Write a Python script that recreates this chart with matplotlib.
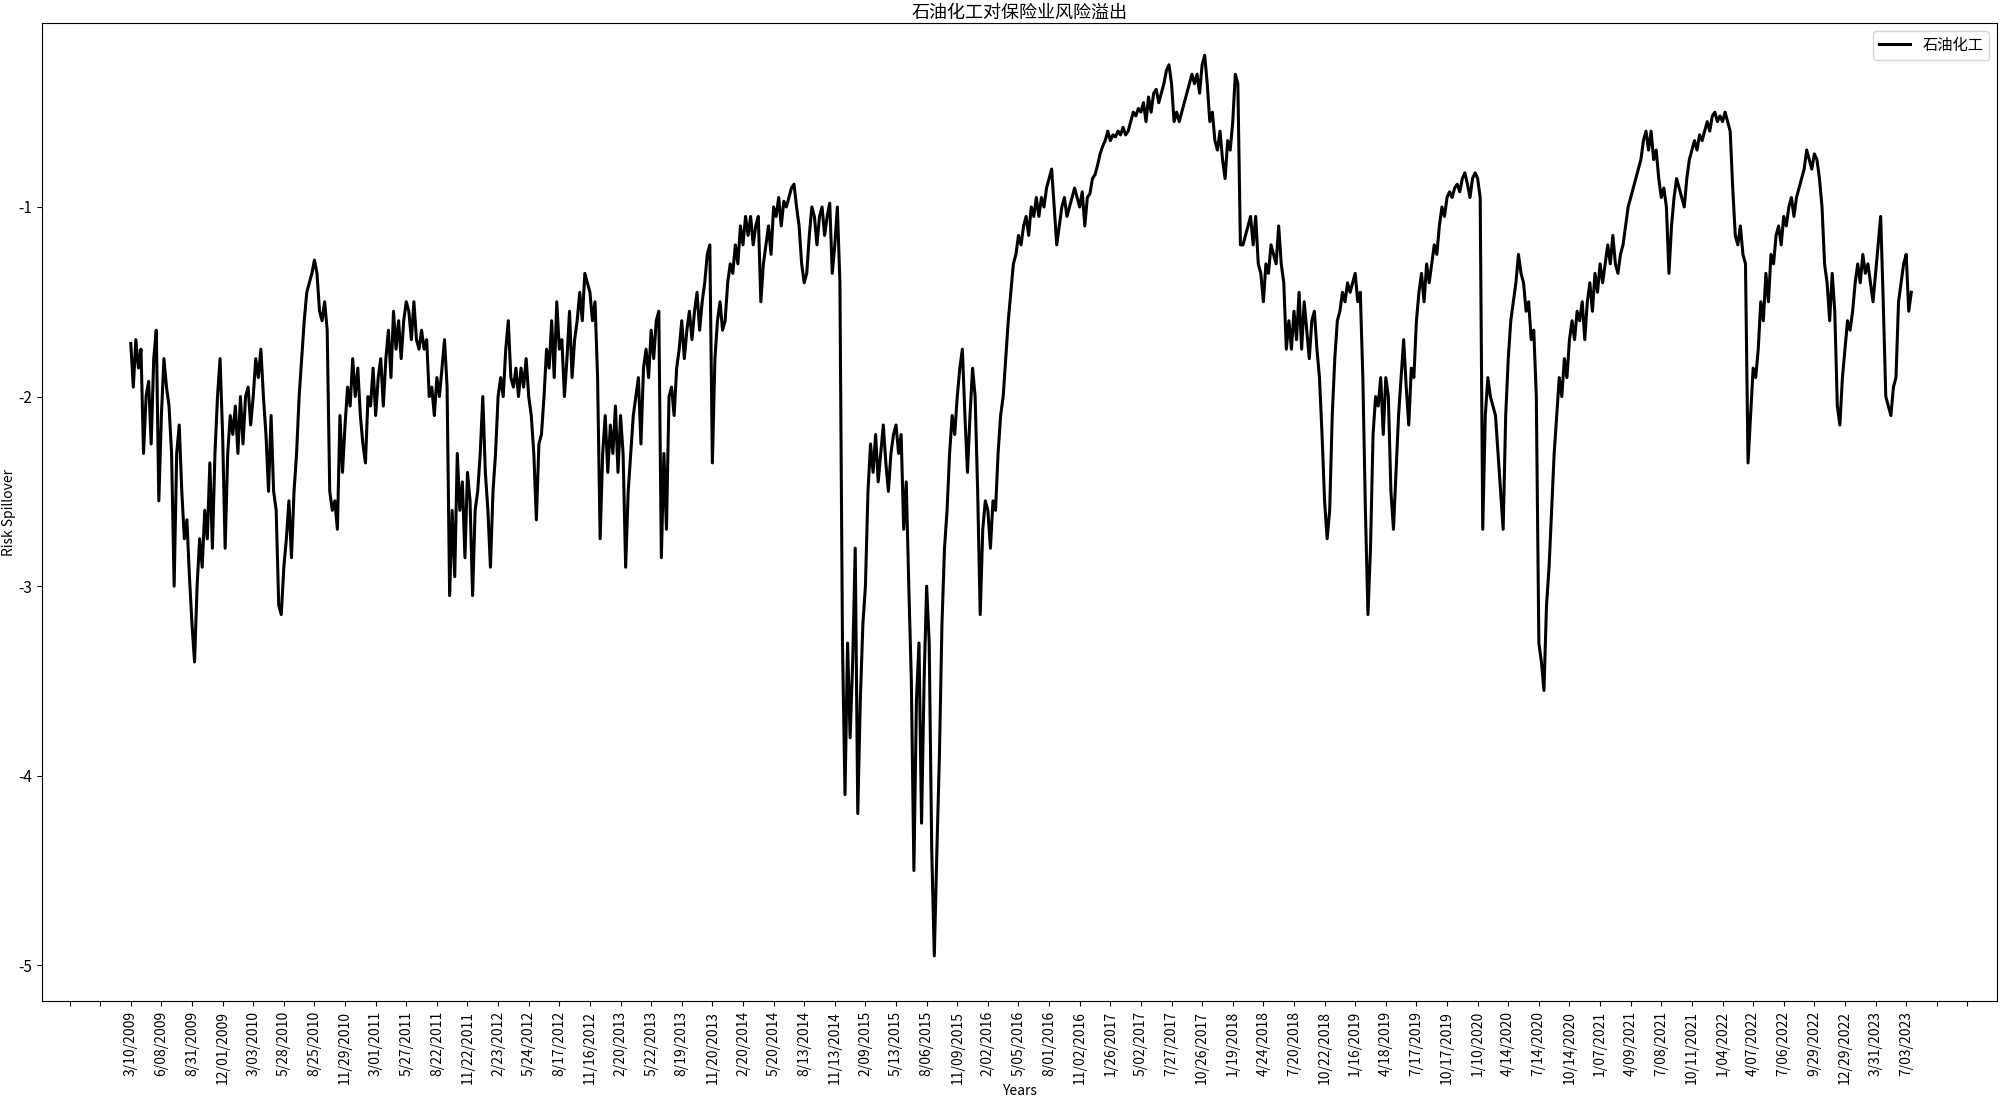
import numpy as np
import matplotlib
matplotlib.use('Agg')
import matplotlib.pyplot as plt

plt.rcParams['font.family'] = ['Noto Sans CJK SC', 'DejaVu Sans']
plt.rcParams['axes.unicode_minus'] = False

# weekly readings (every 5 trading days) of the spillover series
seg_2009 = [-1.72, -1.95, -1.7, -1.85, -1.75, -2.3, -2.0, -1.92, -2.25, -1.8,
            -1.65, -2.55, -2.1, -1.8, -1.95, -2.05, -2.3, -3.0, -2.3, -2.15,
            -2.5, -2.75, -2.65, -2.95, -3.2, -3.4, -3.0, -2.75]
seg_2010 = [-2.9, -2.6, -2.75, -2.35, -2.8, -2.3, -2.0, -1.8, -2.2, -2.8,
            -2.3, -2.1, -2.2, -2.05, -2.3, -2.0, -2.25, -2.0, -1.95, -2.15,
            -2.0, -1.8, -1.9, -1.75, -2.0, -2.2, -2.5, -2.1, -2.5, -2.6,
            -3.1, -3.15, -2.9, -2.75, -2.55, -2.85, -2.5, -2.3, -2.0, -1.8,
            -1.6, -1.45, -1.4, -1.35, -1.28, -1.35, -1.55, -1.6, -1.5, -1.65]
seg_2011 = [-2.5, -2.6, -2.55, -2.7, -2.1, -2.4, -2.15, -1.95, -2.05, -1.8,
            -2.0, -1.85, -2.1, -2.25, -2.35, -2.0, -2.05, -1.85, -2.1, -1.9,
            -1.8, -2.05, -1.8, -1.65, -1.9, -1.55, -1.75, -1.6, -1.8, -1.6,
            -1.5, -1.55, -1.7, -1.5, -1.7, -1.75, -1.65, -1.75, -1.7, -2.0,
            -1.95, -2.1, -1.9, -2.0, -1.85, -1.7]
seg_2012 = [-1.95, -3.05, -2.6, -2.95, -2.3, -2.6, -2.45, -2.85, -2.4, -2.55,
            -3.05, -2.6, -2.5, -2.3, -2.0, -2.4, -2.6, -2.9, -2.5, -2.3,
            -2.0, -1.9, -2.0, -1.75, -1.6, -1.9, -1.95, -1.85, -2.0, -1.85,
            -1.95, -1.8, -2.0, -2.1, -2.3, -2.65, -2.25, -2.2, -2.0, -1.75,
            -1.85, -1.6, -1.9, -1.5, -1.75, -1.7, -2.0, -1.8, -1.55, -1.9,
            -1.7, -1.6, -1.45, -1.6, -1.35, -1.4, -1.45, -1.6, -1.5, -1.9]
seg_2013 = [-2.75, -2.3, -2.1, -2.4, -2.15, -2.3, -2.05, -2.4, -2.1, -2.3,
            -2.9, -2.5, -2.3, -2.1, -2.0, -1.9, -2.25, -1.85, -1.75, -1.9,
            -1.65, -1.8, -1.6, -1.55, -2.85, -2.3, -2.7, -2.0, -1.95, -2.1,
            -1.85, -1.75, -1.6, -1.8, -1.65, -1.55, -1.7, -1.55, -1.45, -1.65,
            -1.5, -1.4, -1.25, -1.2, -2.35, -1.8, -1.6, -1.5, -1.65, -1.6,
            -1.4, -1.3, -1.35, -1.2, -1.3, -1.1, -1.2, -1.05, -1.15, -1.05,
            -1.2, -1.1, -1.05, -1.5, -1.3, -1.2, -1.1, -1.25, -1.0, -1.05,
            -0.95, -1.1, -0.97, -1.0, -0.95, -0.9, -0.88, -1.0, -1.1, -1.3,
            -1.4, -1.35, -1.15, -1.0, -1.05, -1.2, -1.05, -1.0, -1.15, -1.05,
            -0.98, -1.35, -1.2, -1.0]
seg_2015 = [-1.4, -3.3, -4.1, -3.3, -3.8, -3.4, -2.8, -4.2, -3.6, -3.2,
            -3.0, -2.5, -2.25, -2.4, -2.2, -2.45, -2.3, -2.15, -2.35, -2.5,
            -2.3, -2.2, -2.15, -2.3, -2.2, -2.7, -2.45, -3.0, -3.5, -4.5,
            -3.6, -3.3, -4.25, -3.5, -3.0, -3.3, -4.4, -4.95, -4.4, -3.9,
            -3.2, -2.8, -2.6, -2.3, -2.1, -2.2, -2.0, -1.85, -1.75, -2.1,
            -2.4, -2.1, -1.85, -2.0, -2.5, -3.15]
seg_2016 = [-2.7, -2.55, -2.6, -2.8, -2.55, -2.6, -2.3, -2.1, -2.0, -1.8,
            -1.6, -1.45, -1.3, -1.25, -1.15, -1.2, -1.1, -1.05, -1.15, -1.0,
            -1.05, -0.95, -1.05, -0.95, -1.0, -0.9, -0.85, -0.8, -1.0, -1.2,
            -1.1, -1.0, -0.95, -1.05, -1.0, -0.95, -0.9, -0.95, -1.0, -0.92,
            -1.1, -0.95, -0.93, -0.85, -0.83, -0.78, -0.72, -0.68, -0.65, -0.6,
            -0.65, -0.62, -0.63, -0.6, -0.62, -0.58, -0.62, -0.6, -0.55, -0.5,
            -0.52, -0.48, -0.5, -0.45, -0.55, -0.42, -0.5, -0.4, -0.38, -0.45,
            -0.4, -0.35, -0.28, -0.25, -0.35, -0.55, -0.5, -0.55, -0.5, -0.45,
            -0.4, -0.35, -0.3, -0.35, -0.3, -0.4, -0.25, -0.2, -0.35, -0.55,
            -0.5, -0.65, -0.7, -0.6, -0.75, -0.85, -0.65, -0.7, -0.55, -0.3,
            -0.35]
seg_2018 = [-1.2, -1.2, -1.15, -1.1, -1.05, -1.2, -1.05, -1.3, -1.35, -1.5,
            -1.3, -1.35, -1.2, -1.25, -1.3, -1.1, -1.3, -1.4, -1.75, -1.6,
            -1.75, -1.55, -1.7, -1.45, -1.75, -1.5, -1.65, -1.8, -1.6, -1.55,
            -1.75, -1.9, -2.2, -2.55, -2.75, -2.6, -2.1, -1.8, -1.6, -1.55,
            -1.45, -1.5, -1.4, -1.45, -1.4, -1.35, -1.5, -1.45, -1.9, -2.6,
            -3.15, -2.8, -2.2, -2.0, -2.05, -1.9, -2.2, -1.9, -2.0, -2.5,
            -2.7, -2.4, -2.1, -1.9, -1.7, -1.95, -2.15, -1.85, -1.9, -1.6,
            -1.45, -1.35, -1.5, -1.3, -1.4, -1.3, -1.2, -1.25, -1.1, -1.0,
            -1.05, -0.95, -0.92, -0.95, -0.9, -0.88, -0.92, -0.85, -0.82, -0.88,
            -0.95, -0.85, -0.82, -0.85, -0.95]
seg_2020 = [-2.7, -2.1, -1.9, -2.0, -2.05, -2.1, -2.3, -2.5, -2.7, -2.1,
            -1.8, -1.6, -1.5, -1.4, -1.25, -1.35, -1.4, -1.55, -1.5, -1.7,
            -1.65, -2.0, -3.3, -3.4, -3.55, -3.1, -2.9, -2.6, -2.3, -2.1,
            -1.9, -2.0, -1.8, -1.9, -1.7, -1.6, -1.7, -1.55, -1.6, -1.5,
            -1.7, -1.5, -1.4, -1.55, -1.35, -1.45, -1.3, -1.4, -1.3, -1.2,
            -1.3, -1.15, -1.3, -1.35, -1.25, -1.2, -1.1, -1.0, -0.95, -0.9,
            -0.85, -0.8, -0.75, -0.65, -0.6, -0.7, -0.6, -0.75, -0.7, -0.85,
            -0.95, -0.9, -1.0, -1.35, -1.1, -0.95, -0.85, -0.9, -0.95, -1.0,
            -0.85, -0.75, -0.7, -0.65, -0.7, -0.62, -0.65, -0.6, -0.55, -0.6,
            -0.52, -0.5, -0.55, -0.52, -0.55, -0.5, -0.55, -0.6, -0.9, -1.15,
            -1.2, -1.1, -1.25, -1.3, -2.35, -2.1, -1.85, -1.9, -1.75, -1.5,
            -1.6, -1.35, -1.5, -1.25, -1.3, -1.15, -1.1, -1.2, -1.05, -1.1,
            -1.0, -0.95, -1.05, -0.95, -0.9, -0.85, -0.8, -0.7, -0.75, -0.8,
            -0.72, -0.75, -0.85, -1.0, -1.3, -1.4, -1.6, -1.35, -1.55, -2.05,
            -2.15, -1.9, -1.75, -1.6, -1.65, -1.55, -1.4, -1.3, -1.4, -1.25,
            -1.35, -1.3, -1.4, -1.5, -1.35, -1.2, -1.05, -1.5, -2.0, -2.05,
            -2.1, -1.95, -1.9, -1.5, -1.4, -1.3, -1.25, -1.55, -1.45]

spill = (seg_2009 + seg_2010 + seg_2011 + seg_2012 + seg_2013 + seg_2015
         + seg_2016 + seg_2018 + seg_2020)
step = 5
days = np.arange(len(spill)) * step

dates = ['3/10/2009', '6/08/2009', '8/31/2009', '12/01/2009', '3/03/2010',
         '5/28/2010', '8/25/2010', '11/29/2010', '3/01/2011', '5/27/2011',
         '8/22/2011', '11/22/2011', '2/23/2012', '5/24/2012', '8/17/2012',
         '11/16/2012', '2/20/2013', '5/22/2013', '8/19/2013', '11/20/2013',
         '2/20/2014', '5/20/2014', '8/13/2014', '11/13/2014', '2/09/2015',
         '5/13/2015', '8/06/2015', '11/09/2015', '2/02/2016', '5/05/2016',
         '8/01/2016', '11/02/2016', '1/26/2017', '5/02/2017', '7/27/2017',
         '10/26/2017', '1/19/2018', '4/24/2018', '7/20/2018', '10/22/2018',
         '1/16/2019', '4/18/2019', '7/17/2019', '10/17/2019', '1/10/2020',
         '4/14/2020', '7/14/2020', '10/14/2020', '1/07/2021', '4/09/2021',
         '7/08/2021', '10/11/2021', '1/04/2022', '4/07/2022', '7/06/2022',
         '9/29/2022', '12/29/2022', '3/31/2023', '7/03/2023']
every = 60

fig, ax = plt.subplots(figsize=(20, 10.98), dpi=100)
plt.subplots_adjust(left=0.021, right=0.9985, top=0.979, bottom=0.088)

ax.plot(days, spill, color='black', lw=2.2, label='石油化工')

ticks = np.arange(-2, len(dates) + 2) * every
labels = [''] * 2 + dates + [''] * 2
ax.set_xticks(ticks)
ax.set_xticklabels(labels, rotation=90, fontsize=10)
ax.tick_params(axis='y', labelsize=11)
ax.set_xlim(-174, 3658)
ax.set_ylim(-5.19, -0.03)

ax.set_title('石油化工对保险业风险溢出', fontsize=13, pad=4)
ax.set_xlabel('Years', fontsize=10, labelpad=0)
ax.set_ylabel('Risk Spillover', fontsize=10, labelpad=2)
ax.legend(loc='upper right', fontsize=11)

plt.savefig('out.png')
